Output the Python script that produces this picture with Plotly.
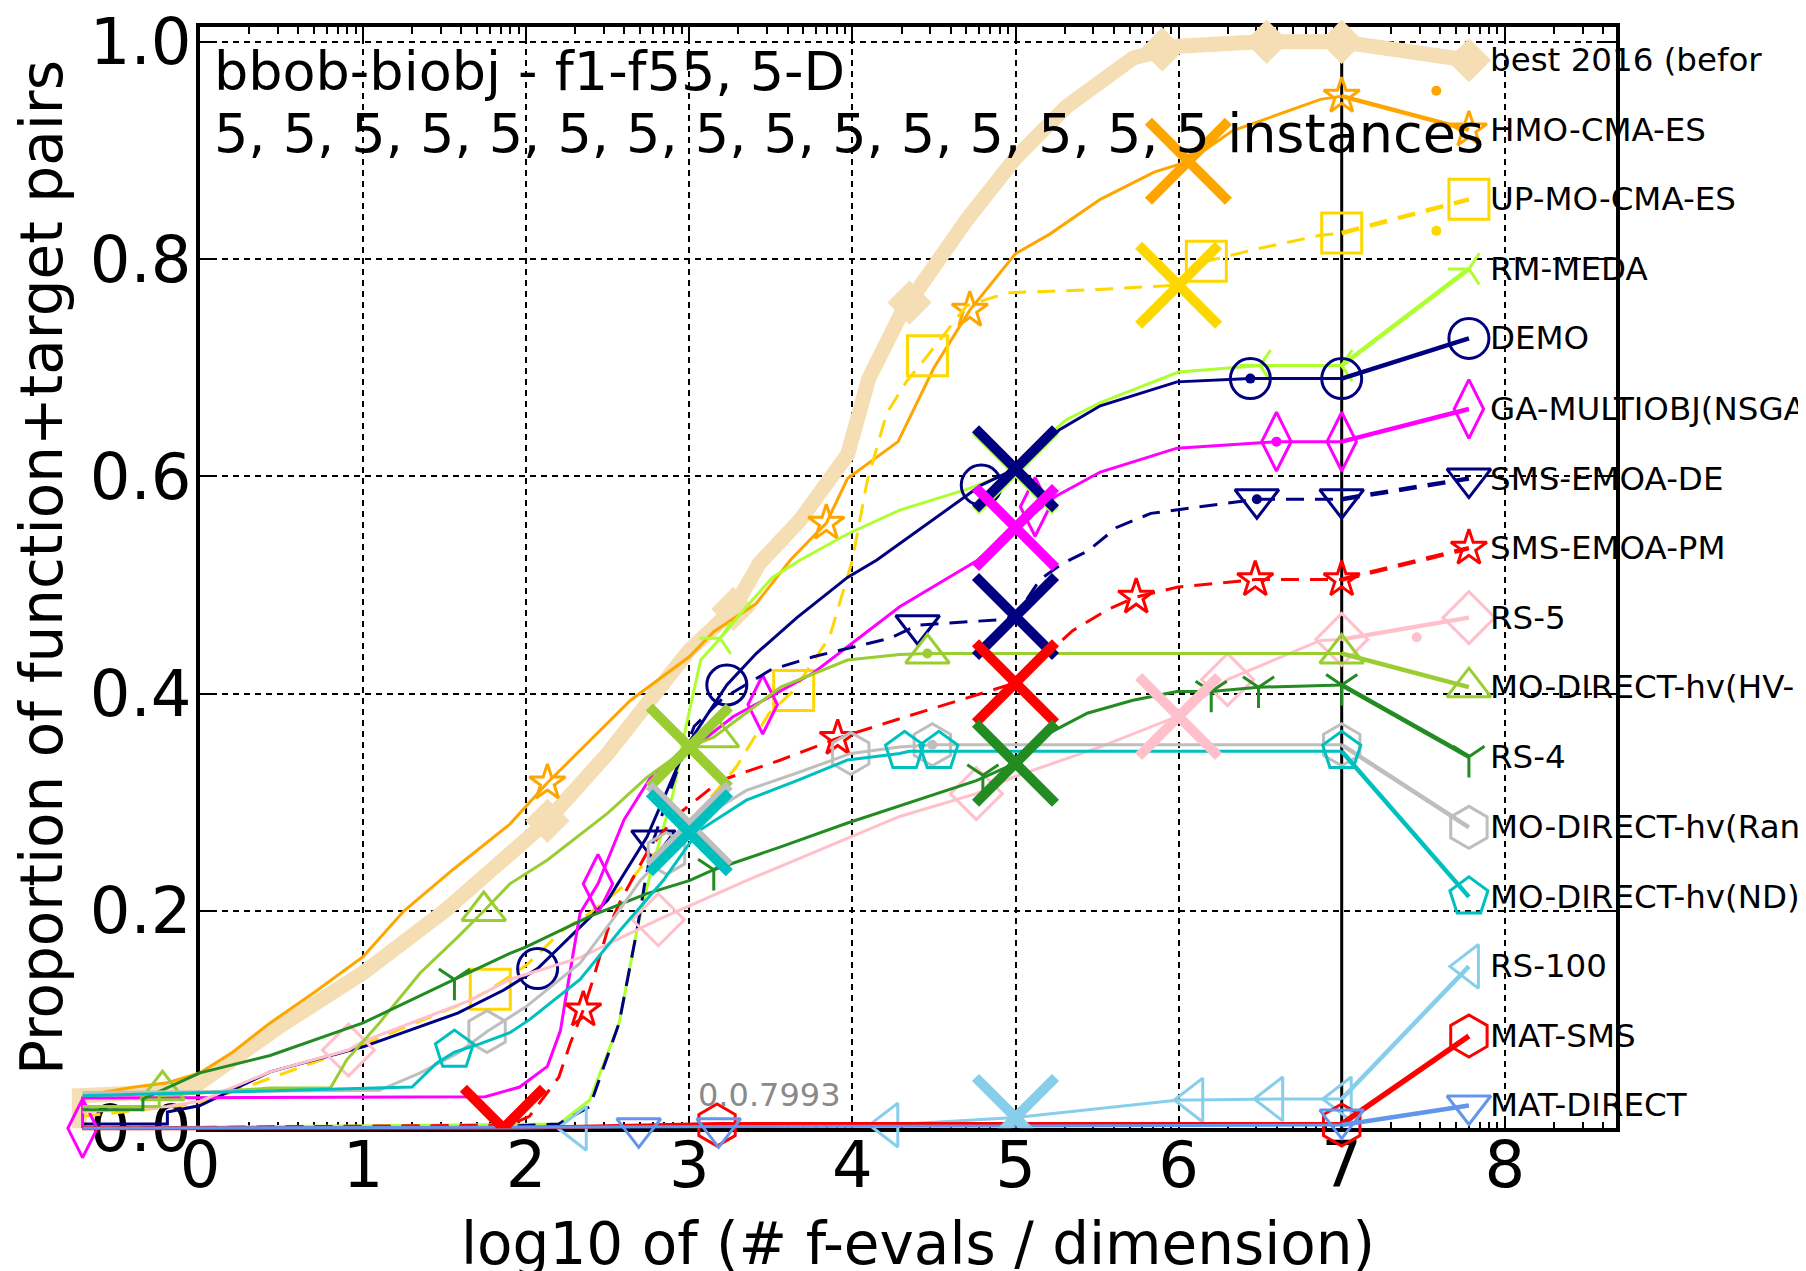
import plotly.graph_objects as go

FONT = "DejaVu Sans"
W, H = 1806, 1271

# ---------------- data ----------------
labels = ["best 2016 (befor", "HMO-CMA-ES", "UP-MO-CMA-ES", "RM-MEDA", "DEMO",
          "GA-MULTIOBJ(NSGA", "SMS-EMOA-DE", "SMS-EMOA-PM", "RS-5", "MO-DIRECT-hv(HV-",
          "RS-4", "MO-DIRECT-hv(Ran", "MO-DIRECT-hv(ND)", "RS-100", "MAT-SMS", "MAT-DIRECT"]

best_x = [-0.74, -0.74, -0.3, 0.0, 0.5, 1.0, 1.5, 2.0, 2.13, 2.5, 3.0, 3.27, 3.43, 3.68, 3.97, 4.1, 4.3, 4.7, 5.0, 5.31, 5.72, 6.0, 6.5, 7.0, 7.78]
best_y = [0.0, 0.03, 0.033, 0.042, 0.095, 0.143, 0.2, 0.265, 0.283, 0.345, 0.44, 0.478, 0.52, 0.56, 0.62, 0.69, 0.75, 0.836, 0.893, 0.94, 0.985, 0.996, 1.0, 1.0, 0.983]
best_mx = [2.13, 3.27, 4.35, 5.9, 6.54, 7.0, 7.78]
best_my = [0.283, 0.478, 0.76, 0.993, 1.0, 1.0, 0.983]

hmo_x = [-0.72, -0.4, -0.2, 0.0, 0.2, 0.43, 0.7, 1.0, 1.25, 1.55, 1.9, 2.13, 2.64, 3.0, 3.15, 3.41, 3.62, 3.84, 3.97, 4.28, 4.5, 4.72, 5.0, 5.21, 5.52, 5.85, 6.06, 6.33, 6.87, 7.0, 7.78]
hmo_y = [0.03, 0.038, 0.042, 0.051, 0.07, 0.097, 0.125, 0.158, 0.2, 0.238, 0.28, 0.318, 0.394, 0.434, 0.457, 0.483, 0.523, 0.557, 0.598, 0.632, 0.70, 0.753, 0.805, 0.823, 0.855, 0.88, 0.89, 0.918, 0.947, 0.95, 0.919]
hmo_mx = [2.13, 3.84, 4.72, 7.0, 7.78]
hmo_my = [0.318, 0.557, 0.753, 0.95, 0.919]

upmo_x = [-0.72, 0.0, 0.43, 1.0, 1.66, 1.78, 2.0, 2.23, 2.39, 2.64, 2.74, 2.98, 3.29, 3.49, 3.64, 3.86, 4.0, 4.09, 4.21, 4.33, 4.46, 4.7, 4.95, 5.5, 6.0, 6.17, 6.5, 6.87, 7.0, 7.78]
upmo_y = [0.011, 0.023, 0.046, 0.077, 0.118, 0.128, 0.15, 0.183, 0.198, 0.228, 0.247, 0.277, 0.333, 0.382, 0.403, 0.452, 0.523, 0.595, 0.658, 0.687, 0.711, 0.757, 0.769, 0.772, 0.776, 0.798, 0.81, 0.822, 0.824, 0.855]
upmo_mx = [1.78, 3.64, 4.46, 6.17, 7.0, 7.78]
upmo_my = [0.128, 0.403, 0.711, 0.798, 0.824, 0.855]

rmm_x = [-0.72, 2.2, 2.39, 2.57, 2.68, 2.75, 2.9, 2.98, 3.07, 3.19, 3.35, 3.51, 3.68, 3.97, 4.29, 4.7, 5.0, 5.11, 5.31, 5.52, 6.0, 6.5, 7.0, 7.78]
rmm_y = [0.0, 0.004, 0.026, 0.097, 0.183, 0.228, 0.308, 0.37, 0.431, 0.451, 0.48, 0.507, 0.523, 0.547, 0.569, 0.588, 0.605, 0.626, 0.652, 0.668, 0.696, 0.702, 0.702, 0.791]
rmm_mx = [3.19, 6.5, 7.0, 7.78]
rmm_my = [0.451, 0.702, 0.702, 0.791]

demo_x = [-0.72, -0.2, -0.2, 0.0, 0.43, 1.0, 1.58, 1.86, 2.07, 2.33, 2.5, 2.74, 2.98, 3.23, 3.41, 3.66, 3.97, 4.15, 4.29, 4.79, 5.0, 5.27, 5.52, 5.99, 6.44, 7.0, 7.78]
demo_y = [0.004, 0.004, 0.015, 0.021, 0.052, 0.075, 0.106, 0.127, 0.147, 0.185, 0.21, 0.268, 0.351, 0.408, 0.437, 0.47, 0.507, 0.523, 0.538, 0.592, 0.607, 0.643, 0.665, 0.687, 0.69, 0.69, 0.727]
demo_mx = [2.07, 3.23, 4.79, 6.44, 7.0, 7.78]
demo_my = [0.147, 0.408, 0.592, 0.69, 0.69, 0.727]

ga_x = [-0.72, -0.72, 1.75, 1.96, 2.13, 2.21, 2.26, 2.33, 2.44, 2.6, 2.78, 2.98, 3.27, 3.76, 4.29, 4.76, 5.0, 5.25, 5.52, 5.99, 6.6, 7.0, 7.78]
ga_y = [0.0, 0.028, 0.029, 0.038, 0.057, 0.09, 0.136, 0.198, 0.225, 0.284, 0.327, 0.345, 0.379, 0.419, 0.48, 0.522, 0.553, 0.582, 0.604, 0.626, 0.632, 0.632, 0.662]
ga_mx = [-0.72, 2.44, 3.45, 5.12, 6.6, 7.0, 7.78]
ga_my = [0.0, 0.225, 0.39, 0.572, 0.632, 0.632, 0.662]

smsde_x = [-0.72, 1.9, 2.2, 2.39, 2.57, 2.68, 2.73, 2.78, 2.92, 3.03, 3.2, 3.5, 3.76, 4.23, 4.4, 4.89, 5.0, 5.15, 5.29, 5.44, 5.62, 5.83, 6.13, 6.48, 7.0, 7.78]
smsde_y = [0.0, 0.002, 0.004, 0.02, 0.097, 0.183, 0.228, 0.265, 0.327, 0.37, 0.395, 0.422, 0.434, 0.451, 0.463, 0.468, 0.471, 0.505, 0.52, 0.531, 0.553, 0.566, 0.572, 0.579, 0.579, 0.598]
smsde_mx = [2.78, 4.4, 6.48, 7.0, 7.78]
smsde_my = [0.265, 0.463, 0.579, 0.579, 0.598]

smspm_x = [-0.72, 1.9, 2.02, 2.2, 2.27, 2.35, 2.41, 2.5, 2.58, 2.76, 2.94, 3.19, 3.56, 3.91, 4.27, 4.66, 5.0, 5.35, 5.56, 5.74, 5.99, 6.47, 7.0, 7.78]
smspm_y = [0.0, 0.003, 0.011, 0.047, 0.078, 0.109, 0.137, 0.183, 0.21, 0.259, 0.29, 0.32, 0.339, 0.359, 0.376, 0.394, 0.41, 0.458, 0.477, 0.489, 0.498, 0.505, 0.505, 0.534]
smspm_mx = [2.35, 3.91, 5.74, 6.47, 7.0, 7.78]
smspm_my = [0.109, 0.359, 0.489, 0.505, 0.505, 0.534]

rs5_x = [-0.72, -0.2, 0.0, 0.43, 0.91, 1.0, 1.66, 1.9, 2.33, 2.64, 2.81, 3.35, 4.29, 4.76, 5.0, 5.52, 5.99, 6.3, 6.87, 7.0, 7.78]
rs5_y = [0.015, 0.02, 0.025, 0.052, 0.072, 0.08, 0.118, 0.137, 0.157, 0.18, 0.192, 0.228, 0.287, 0.308, 0.324, 0.351, 0.379, 0.413, 0.449, 0.45, 0.47]
rs5_mx = [0.91, 2.81, 4.76, 6.3, 7.0, 7.78]
rs5_my = [0.072, 0.192, 0.308, 0.413, 0.45, 0.47]

hv_x = [-0.72, -0.25, -0.25, 0.43, 0.8, 0.9, 1.1, 1.35, 1.58, 1.74, 1.9, 2.13, 2.5, 2.74, 3.0, 3.15, 3.56, 3.97, 4.29, 4.46, 7.0, 7.78]
hv_y = [0.02, 0.02, 0.03, 0.037, 0.037, 0.063, 0.097, 0.143, 0.176, 0.2, 0.225, 0.247, 0.29, 0.323, 0.351, 0.36, 0.406, 0.431, 0.436, 0.437, 0.437, 0.406]
hv_mx = [-0.23, 1.74, 3.17, 4.46, 7.0, 7.78]
hv_my = [0.035, 0.2, 0.36, 0.437, 0.437, 0.406]

rs4_x = [-0.72, -0.35, -0.35, -0.1, 0.0, 0.43, 1.0, 1.56, 1.9, 2.0, 2.39, 2.74, 3.0, 3.15, 3.56, 3.97, 4.29, 4.76, 5.0, 5.21, 5.44, 5.72, 5.99, 6.2, 6.49, 7.0, 7.78]
rs4_y = [0.017, 0.017, 0.027, 0.044, 0.051, 0.067, 0.097, 0.137, 0.161, 0.167, 0.195, 0.216, 0.228, 0.238, 0.259, 0.281, 0.297, 0.32, 0.336, 0.364, 0.382, 0.394, 0.402, 0.402, 0.406, 0.408, 0.342]
rs4_mx = [1.56, 3.15, 4.8, 6.2, 6.49, 7.0, 7.78]
rs4_my = [0.137, 0.238, 0.325, 0.402, 0.406, 0.408, 0.342]

ran_x = [-0.72, 1.1, 1.35, 1.58, 1.76, 2.0, 2.33, 2.53, 2.7, 2.86, 3.0, 3.07, 3.35, 3.66, 3.99, 4.29, 4.49, 7.0, 7.78]
ran_y = [0.033, 0.035, 0.051, 0.069, 0.089, 0.112, 0.152, 0.192, 0.228, 0.253, 0.279, 0.285, 0.311, 0.327, 0.345, 0.351, 0.353, 0.353, 0.277]
ran_mx = [1.76, 2.86, 3.99, 4.49, 7.0, 7.78]
ran_my = [0.089, 0.253, 0.345, 0.353, 0.353, 0.277]

nd_x = [-0.72, 1.3, 1.45, 1.56, 1.72, 1.9, 2.02, 2.33, 2.58, 2.84, 3.0, 3.07, 3.35, 3.66, 3.97, 4.29, 4.35, 7.0, 7.78]
nd_y = [0.03, 0.038, 0.06, 0.07, 0.078, 0.088, 0.1, 0.137, 0.183, 0.228, 0.262, 0.275, 0.302, 0.32, 0.339, 0.345, 0.347, 0.347, 0.213]
nd_mx = [1.56, 4.32, 4.53, 7.0, 7.78]
nd_my = [0.072, 0.347, 0.347, 0.347, 0.213]

rs100_x = [0.8, 4.22, 5.0, 6.0, 6.09, 6.58, 7.0, 7.78]
rs100_y = [0.0, 0.003, 0.01, 0.026, 0.026, 0.027, 0.027, 0.149]
rs100_mx = [2.31, 4.22, 6.09, 6.58, 7.0, 7.78]
rs100_my = [0.0, 0.003, 0.026, 0.027, 0.027, 0.149]

matsms_x = [-0.72, 1.86, 3.17, 7.0, 7.78]
matsms_y = [0.0, 0.0, 0.004, 0.004, 0.085]
matsms_mx = [3.17, 7.0, 7.78]
matsms_my = [0.003, 0.003, 0.085]

matdir_x = [-0.72, 7.0, 7.78]
matdir_y = [0.0, 0.003, 0.021]
matdir_mx = [2.69, 3.18, 7.0, 7.78]
matdir_my = [0.0, 0.0, 0.008, 0.021]

# budget crosses (x, y) per algorithm
cross_x = [6.06, 6.0, 5.0, 5.0, 5.0, 5.0, 5.0, 6.0, 3.0, 5.0, 3.0, 3.0, 5.0, 1.86]
cross_y = [0.89, 0.776, 0.605, 0.607, 0.553, 0.471, 0.41, 0.379, 0.351, 0.336, 0.279, 0.272, 0.01, 0.0]
cross_c = ["#FFA500", "#FFD700", "#ADFF2F", "#000080", "#FF00FF", "#000080", "#FF0000", "#FFC0CB",
           "#9ACD32", "#228B22", "#BEBEBE", "#00BFBF", "#87CEEB", "#FF0000"]

# small dots
dot_x = [7.58, 7.58, 6.44, 6.6, 6.48, 7.46, 4.46, 4.49]
dot_y = [0.955, 0.826, 0.69, 0.632, 0.579, 0.452, 0.437, 0.353]
dot_c = ["#FFA500", "#FFD700", "#000080", "#FF00FF", "#000080", "#FFC0CB", "#9ACD32", "#BEBEBE"]

x_ticks = [0, 1, 2, 3, 4, 5, 6, 7, 8]
y_ticks = [0.0, 0.2, 0.4, 0.6, 0.8, 1.0]
y_ticktext = ["0.0", "0.2", "0.4", "0.6", "0.8", "1.0"]

# ---------------- geometry (page body adds an 8px offset) ----------------
X0PX, XSC = 192.0, 163.1
Y0PX, YSC = 1120.3, 1086.5
XMAX, YMAX = 8.68, 1.0136
XMIN_EXT, YMIN_EXT = -1.15, -0.06
YMAX_EXT = Y0PX / YSC


def xdom(lo, hi):
    return [max(0.0, (X0PX + lo * XSC) / W), (X0PX + hi * XSC) / W]


def ydom(lo, hi):
    return [(H - (Y0PX - lo * YSC)) / H, min(1.0, (H - (Y0PX - hi * YSC)) / H)]


fig = go.Figure()

# invisible trace so that the framed main subplot (grid, spines, ticks) exists
fig.add_trace(go.Scatter(x=[0], y=[0], mode="markers", marker=dict(opacity=0, size=1),
                         xaxis="x", yaxis="y", showlegend=False, hoverinfo="skip"))

series = [
    (best_x, best_y, best_mx, best_my, "#F5DEB3", "solid", 15, "diamond", 34, True),
    (hmo_x, hmo_y, hmo_mx, hmo_my, "#FFA500", "solid", 3, "star-open", 27, False),
    (upmo_x, upmo_y, upmo_mx, upmo_my, "#FFD700", "18px,11px", 3, "square-open", 40, False),
    (rmm_x, rmm_y, rmm_mx, rmm_my, "#ADFF2F", "solid", 3, "y-left-open", 26, False),
    (demo_x, demo_y, demo_mx, demo_my, "#000080", "solid", 3, "circle-open", 40, False),
    (ga_x, ga_y, ga_mx, ga_my, "#FF00FF", "solid", 3, "diamond-tall-open", 42, False),
    (smsde_x, smsde_y, smsde_mx, smsde_my, "#000080", "18px,11px", 3, "triangle-down-open", 38, False),
    (smspm_x, smspm_y, smspm_mx, smspm_my, "#FF0000", "18px,11px", 3, "star-open", 27, False),
    (rs5_x, rs5_y, rs5_mx, rs5_my, "#FFC0CB", "solid", 3, "diamond-open", 40, False),
    (hv_x, hv_y, hv_mx, hv_my, "#9ACD32", "solid", 3, "triangle-up-open", 38, False),
    (rs4_x, rs4_y, rs4_mx, rs4_my, "#228B22", "solid", 3, "y-down-open", 26, False),
    (ran_x, ran_y, ran_mx, ran_my, "#BEBEBE", "solid", 3, "hexagon-open", 42, False),
    (nd_x, nd_y, nd_mx, nd_my, "#00BFBF", "solid", 3, "pentagon-open", 40, False),
    (rs100_x, rs100_y, rs100_mx, rs100_my, "#87CEEB", "solid", 3, "triangle-left-open", 38, False),
    (matsms_x, matsms_y, matsms_mx, matsms_my, "#FF0000", "solid", 4, "hexagon-open", 42, False),
    (matdir_x, matdir_y, matdir_mx, matdir_my, "#6495ED", "solid", 3, "triangle-down-open", 38, False),
]

common = dict(xaxis="x2", yaxis="y2", showlegend=False, hoverinfo="skip")

# vertical line at x = 7
fig.add_trace(go.Scatter(x=[7, 7], y=[0, YMAX], mode="lines",
                         line=dict(color="black", width=3), **common))

for xs, ys, mx, my, col, dash, lw, sym, ms, filled in series:
    k = xs.index(7.0)
    fig.add_trace(go.Scatter(x=xs[:k + 1], y=ys[:k + 1], mode="lines",
                             line=dict(color=col, width=lw, dash=dash), **common))
    fig.add_trace(go.Scatter(x=xs[k:], y=ys[k:], mode="lines",
                             line=dict(color=col, width=lw if filled else lw + 1.5, dash=dash), **common))
    if filled:
        mk = dict(symbol=sym, size=ms, color=col, line=dict(width=0))
    else:
        mk = dict(symbol=sym, size=ms, color=col, line=dict(color=col, width=3))
    fig.add_trace(go.Scatter(x=mx, y=my, mode="markers", marker=mk, cliponaxis=False, **common))

fig.add_trace(go.Scatter(x=dot_x, y=dot_y, mode="markers",
                         marker=dict(symbol="circle", size=10, color=dot_c), cliponaxis=False, **common))

# budget crosses, clipped to the axes box (own overlay subplot)
fig.add_trace(go.Scatter(x=cross_x, y=cross_y, mode="markers", xaxis="x3", yaxis="y3",
                         showlegend=False, hoverinfo="skip", cliponaxis=True,
                         marker=dict(symbol="x-thin-open", size=80, color=cross_c,
                                     line=dict(color=cross_c, width=10))))

tickfont = dict(family=FONT, size=64, color="black")
minor_vals = [d + v for d in range(0, 9) for v in
              [0.30103, 0.47712, 0.60206, 0.69897, 0.77815, 0.84510, 0.90309, 0.95424] if d + v < XMAX]

hidden = dict(visible=False, automargin=False, showgrid=False, zeroline=False)

fig.update_layout(
    width=W, height=H, autosize=False,
    margin=dict(l=0, r=0, t=0, b=0, pad=0, autoexpand=False),
    paper_bgcolor="white", plot_bgcolor="rgba(0,0,0,0)",
    font=dict(family=FONT, color="black"),
    xaxis=dict(range=[0, XMAX], domain=xdom(0, XMAX), anchor="y", automargin=False,
               tickmode="array", tickvals=x_ticks, ticktext=[str(v) for v in x_ticks],
               ticks="inside", ticklen=13, tickwidth=2, tickcolor="black",
               showline=True, linecolor="black", linewidth=3.5, mirror="allticks",
               showgrid=True, gridcolor="black", gridwidth=1.6, griddash="6px,5px",
               zeroline=False, tickfont=tickfont, ticklabelstandoff=-22, ticklabeloverflow="allow",
               minor=dict(tickmode="array", tickvals=minor_vals, ticks="inside",
                          ticklen=7, tickwidth=2, tickcolor="black", showgrid=False)),
    yaxis=dict(range=[0, YMAX], domain=ydom(0, YMAX), anchor="x", automargin=False,
               tickmode="array", tickvals=y_ticks, ticktext=y_ticktext,
               ticks="inside", ticklen=14, tickwidth=2, tickcolor="black",
               showline=True, linecolor="black", linewidth=3.5, mirror="allticks",
               showgrid=True, gridcolor="black", gridwidth=1.6, griddash="6px,5px",
               zeroline=False, tickfont=tickfont, ticklabelstandoff=-8, ticklabeloverflow="allow"),
    xaxis2=dict(range=[XMIN_EXT, XMAX], domain=xdom(XMIN_EXT, XMAX), anchor="y2", **hidden),
    yaxis2=dict(range=[YMIN_EXT, YMAX_EXT], domain=ydom(YMIN_EXT, YMAX_EXT), anchor="x2", **hidden),
    xaxis3=dict(range=[0, XMAX], domain=xdom(0, XMAX), anchor="y3", **hidden),
    yaxis3=dict(range=[0, YMAX], domain=ydom(0, YMAX), anchor="x3", **hidden),
)

ann = []
# title lines inside the axes
ann.append(dict(text="bbob-biobj - f1-f55, 5-D", x=204 / W, y=1 - 64 / H, xref="paper", yref="paper",
                xanchor="left", yanchor="middle", showarrow=False,
                font=dict(family=FONT, size=54, color="black")))
ann.append(dict(text="5, 5, 5, 5, 5, 5, 5, 5, 5, 5, 5, 5, 5, 5, 5 instances", x=204 / W, y=1 - 126 / H,
                xref="paper", yref="paper", xanchor="left", yanchor="middle", showarrow=False,
                font=dict(family=FONT, size=54, color="black")))
# axis titles
ann.append(dict(text="log10 of (# f-evals / dimension)", x=910 / W, y=1 - 1236 / H, xref="paper", yref="paper",
                xanchor="center", yanchor="middle", showarrow=False,
                font=dict(family=FONT, size=58, color="black")))
ann.append(dict(text="Proportion of function+target pairs", x=34 / W, y=1 - 560 / H, xref="paper", yref="paper",
                xanchor="center", yanchor="middle", textangle=-90, showarrow=False,
                font=dict(family=FONT, size=58, color="black")))
# right-hand labels at the end values
for (xs, ys, *_), lab in zip(series, labels):
    ann.append(dict(text=lab, x=7.9, y=ys[-1], xref="x2", yref="y2", xanchor="left", yanchor="middle",
                    showarrow=False, font=dict(family=FONT, size=32.5, color="black")))
ann.append(dict(text="0.0.7993", x=3.04, y=0.031, xref="x2", yref="y2", xanchor="left", yanchor="middle",
                showarrow=False, font=dict(family=FONT, size=32, color="#8a8a8a")))
fig.update_layout(annotations=ann)

fig.write_html("out.html")
